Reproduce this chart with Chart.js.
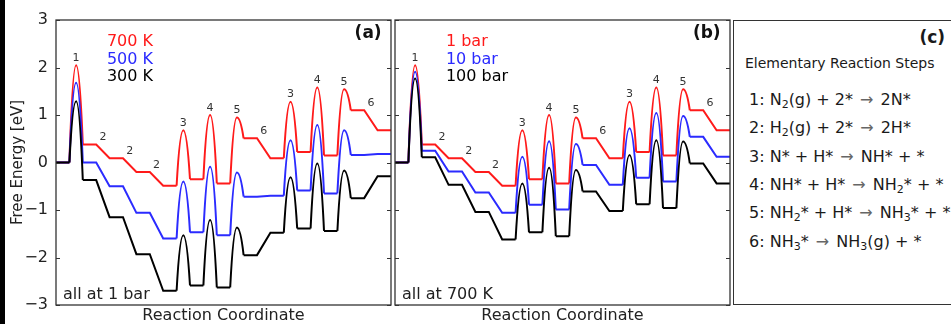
<!DOCTYPE html>
<html>
<head>
<meta charset="utf-8">
<script src="https://cdn.jsdelivr.net/npm/chart.js@4.4.1/dist/chart.umd.min.js"></script>
<style>
  html, body { margin: 0; padding: 0; background: #fff; }
  body { width: 951px; height: 324px; position: relative; overflow: hidden; font-family: "DejaVu Sans", sans-serif; color: #1a1a1a; }
  .edge { position: absolute; left: 0; top: 0; width: 5px; height: 324px; background: #000; z-index: 2; }
  #chartA { position: absolute; left: 0; top: 0; }
  #chartB { position: absolute; left: 393px; top: 0; }
  #panelC { position: absolute; left: 733px; top: 20px; width: 240px; height: 283px; border: 1.3px solid #333; }
  #panelC div { position: absolute; white-space: nowrap; }
  .letter { left: 0; width: 211px; text-align: right; font-weight: bold; font-size: 17px; line-height: 20px; top: 6px; }
  .head { left: 11px; font-size: 14px; line-height: 18px; top: 33px; }
  .rx { left: 15px; font-size: 16px; line-height: 20px; }
  .rx sub { font-size: 11px; vertical-align: -3px; line-height: 0; }
  .rx .arr { color: #666; font-size: 16px; margin: 0 2px; }
</style>
</head>
<body>
<div class="edge"></div>
<canvas id="chartA" width="393" height="324"></canvas>
<canvas id="chartB" width="339" height="324"></canvas>
<div id="panelC"></div>
<script>
// ============================================================
// DATA (free energies in eV)
// ============================================================
const stepLabels = ['1', '2', '2', '2', '3', '4', '5', '6', '3', '4', '5', '6'];
const yTicks = [-3, -2, -1, 0, 1, 2, 3];

// (a) all at 1 bar : intermediate levels + transition state peaks (null = no barrier)
const g700K  = [0, 0.38, 0.09, -0.20, -0.49, -0.35, -0.44, 0.51, 0.09, 0.22, 0.15, 1.10, 0.68];
const ts700K = [2.05, null, null, null, 0.68, 1.00, 0.95, null, 1.28, 1.58, 1.54, null];
const g500K  = [0, 0.00, -0.50, -1.06, -1.60, -1.47, -1.53, -0.72, -0.70, -0.59, -0.65, 0.16, 0.18];
const ts500K = [1.68, null, null, null, -0.40, -0.09, -0.21, null, 0.47, 0.79, 0.68, null];
const g300K  = [0, -0.37, -1.15, -1.93, -2.70, -2.59, -2.63, -1.95, -1.48, -1.39, -1.44, -0.75, -0.29];
const ts300K = [1.29, null, null, null, -1.53, -1.21, -1.37, null, -0.31, -0.02, -0.17, null];

// (b) all at 700 K
const g1bar    = [0, 0.38, 0.09, -0.20, -0.49, -0.35, -0.44, 0.51, 0.09, 0.22, 0.15, 1.10, 0.68];
const ts1bar   = [2.05, null, null, null, 0.68, 1.00, 0.95, null, 1.28, 1.58, 1.54, null];
const g10bar   = [0, 0.25, -0.19, -0.63, -1.06, -0.89, -0.99, -0.05, -0.47, -0.32, -0.40, 0.54, 0.12];
const ts10bar  = [1.91, null, null, null, 0.12, 0.45, 0.39, null, 0.72, 1.04, 0.98, null];
const g100bar  = [0, 0.11, -0.47, -1.04, -1.62, -1.47, -1.55, -0.61, -1.02, -0.88, -0.96, -0.02, -0.44];
const ts100bar = [1.77, null, null, null, -0.44, -0.11, -0.16, null, 0.16, 0.47, 0.44, null];

const legendA = ['700 K', '500 K', '300 K'];
const legendB = ['1 bar', '10 bar', '100 bar'];

const reactionSteps = [
    '1: N<sub>2</sub>(g) + 2* <span class="arr">\u2192</span> 2N*',
    '2: H<sub>2</sub>(g) + 2* <span class="arr">\u2192</span> 2H*',
    '3: N* + H* <span class="arr">\u2192</span> NH* + *',
    '4: NH* + H* <span class="arr">\u2192</span> NH<sub>2</sub>* + *',
    '5: NH<sub>2</sub>* + H* <span class="arr">\u2192</span> NH<sub>3</sub>* + *',
    '6: NH<sub>3</sub>* <span class="arr">\u2192</span> NH<sub>3</sub>(g) + *'
];

const colors = ['#ff1a1a', '#2b2bff', '#000000'];
const FONT = '"DejaVu Sans", sans-serif';
Chart.defaults.font.family = FONT;

// ============================================================
// HELPERS
// ============================================================
// flats (one unit wide) and straight slopes, broken where a barrier sits
function pathPoints(levels, peaks) {
    const pts = [];
    levels.forEach((g, k) => {
        pts.push({ x: 2 * k, y: g }, { x: 2 * k + 1, y: g });
        if (k < peaks.length && peaks[k] !== null) pts.push({ x: 2 * k + 1.5, y: null });
    });
    return pts;
}

// barrier humps: base - peak - base
function humpPoints(levels, peaks) {
    const pts = [];
    peaks.forEach((p, k) => {
        if (p === null) return;
        pts.push({ x: 2 * k + 1, y: levels[k] }, { x: 2 * k + 1.5, y: p }, { x: 2 * k + 2, y: levels[k + 1] }, { x: 2 * k + 2.5, y: null });
    });
    return pts;
}

function buildDatasets(curves) {
    const sets = [];
    // first dataset is drawn on top -> black first
    curves.slice().reverse().forEach(c => {
        const base = { borderColor: c.color, borderWidth: 2, pointRadius: 0, fill: false, spanGaps: false };
        sets.push({ ...base, data: pathPoints(c.levels, c.peaks), tension: 0 });
        sets.push({ ...base, data: humpPoints(c.levels, c.peaks), cubicInterpolationMode: 'monotone', hump: true });
    });
    return sets;
}

// rounder (parabola-like) barrier tops: reshape the bezier handles of the hump lines
const HUMP_K = 0.72;
const humpShape = {
    id: 'humpShape',
    beforeDatasetDraw(chart, args) {
        if (!chart.data.datasets[args.index].hump) return;
        const line = args.meta.dataset;
        line.updateControlPoints(chart.chartArea, 'x');
        const pts = args.meta.data;
        for (let i = 0; i + 2 < pts.length; i += 4) {
            const L = pts[i], P = pts[i + 1], R = pts[i + 2];
            const dl = (P.x - L.x) / 3, dr = (R.x - P.x) / 3;
            L.cp2x = L.x + dl; L.cp2y = L.y + HUMP_K * (P.y - L.y);
            P.cp1x = P.x - dl; P.cp1y = P.y;
            P.cp2x = P.x + dr; P.cp2y = P.y;
            R.cp1x = R.x - dr; R.cp1y = R.y + HUMP_K * (P.y - R.y);
        }
        line._path = undefined;
    }
};

const decorPlugin = {
    id: 'decor',
    afterDatasetsDraw(chart, args, o) {
        const { ctx, chartArea: a, scales: { x, y } } = chart;
        ctx.save();
        // frame + inward ticks on both sides
        ctx.strokeStyle = '#333'; ctx.lineWidth = 1.3;
        ctx.strokeRect(a.left, a.top, a.right - a.left, a.bottom - a.top);
        ctx.lineWidth = 1;
        yTicks.forEach(v => {
            const py = Math.round(y.getPixelForValue(v)) + 0.5;
            ctx.beginPath();
            ctx.moveTo(a.left, py); ctx.lineTo(a.left + 4, py);
            ctx.moveTo(a.right, py); ctx.lineTo(a.right - 4, py);
            ctx.stroke();
        });

        // step numbers above the top curve
        const top = o.curves[0];
        ctx.fillStyle = '#333'; ctx.font = '11px ' + FONT;
        ctx.textAlign = 'center'; ctx.textBaseline = 'middle';
        stepLabels.forEach((s, k) => {
            const hi = Math.max(top.levels[k], top.levels[k + 1], top.peaks[k] === null ? -99 : top.peaks[k]);
            ctx.fillText(s, x.getPixelForValue(2 * k + 1.5), y.getPixelForValue(hi + 0.15));
        });

        // coloured legend text
        ctx.font = '16px ' + FONT; ctx.textAlign = 'left';
        o.curves.forEach((c, i) => {
            ctx.fillStyle = c.color;
            ctx.fillText(o.legend[i], x.getPixelForValue(3.8), y.getPixelForValue(2.53 - 0.365 * i));
        });

        // panel letter and note
        ctx.fillStyle = '#111'; ctx.font = 'bold 17px ' + FONT; ctx.textAlign = 'right';
        ctx.fillText(o.letter, x.getPixelForValue(24.3), y.getPixelForValue(2.72));
        ctx.fillStyle = '#222'; ctx.font = '16px ' + FONT; ctx.textAlign = 'left';
        ctx.fillText(o.note, x.getPixelForValue(0.52), y.getPixelForValue(-2.79));
        ctx.restore();
    }
};

function makeChart(id, curves, legend, letter, note, withY) {
    const xScale = {
        type: 'linear', min: 0, max: 25,
        ticks: { display: false },
        grid: { display: false, drawTicks: false },
        border: { display: false },
        title: { display: true, text: 'Reaction Coordinate', color: '#222', font: { size: 16, lineHeight: 1 }, padding: { top: 0, bottom: 0 } },
        afterFit(s) { s.height = 19; }
    };
    const yScale = withY ? {
        min: -3, max: 3,
        afterBuildTicks(s) { s.ticks = yTicks.map(v => ({ value: v })); },
        ticks: { color: '#222', font: { size: 16 }, padding: 8, callback: v => v < 0 ? '\u2212' + (-v) : String(v) },
        grid: { display: false, drawTicks: false },
        border: { display: false },
        title: { display: true, text: 'Free Energy [eV]', color: '#222', font: { size: 15, lineHeight: 1 }, padding: { top: 10.5, bottom: 0 } },
        afterFit(s) { s.width = 56; }
    } : { display: false, min: -3, max: 3 };

    return new Chart(document.getElementById(id), {
        type: 'line',
        data: { datasets: buildDatasets(curves) },
        options: {
            responsive: false,
            animation: false,
            layout: { padding: { left: withY ? 0 : 2, right: 2, top: 20, bottom: 0 } },
            scales: { x: xScale, y: yScale },
            plugins: {
                legend: { display: false },
                tooltip: { enabled: false },
                decor: { curves, legend, letter, note }
            }
        },
        plugins: [humpShape, decorPlugin]
    });
}

// ============================================================
// CHARTS
// ============================================================
makeChart('chartA', [
    { levels: g700K, peaks: ts700K, color: colors[0] },
    { levels: g500K, peaks: ts500K, color: colors[1] },
    { levels: g300K, peaks: ts300K, color: colors[2] }
], legendA, '(a)', 'all at 1 bar', true);

makeChart('chartB', [
    { levels: g1bar, peaks: ts1bar, color: colors[0] },
    { levels: g10bar, peaks: ts10bar, color: colors[1] },
    { levels: g100bar, peaks: ts100bar, color: colors[2] }
], legendB, '(b)', 'all at 700 K', false);

// Panel (c): text only
const panelC = document.getElementById('panelC');
panelC.innerHTML = '<div class="letter">(c)</div><div class="head">Elementary Reaction Steps</div>';
reactionSteps.forEach((s, i) => {
    const d = document.createElement('div');
    d.className = 'rx';
    d.style.top = (69 + 28.33 * i) + 'px';
    d.innerHTML = s;
    panelC.appendChild(d);
});
</script>
</body>
</html>
